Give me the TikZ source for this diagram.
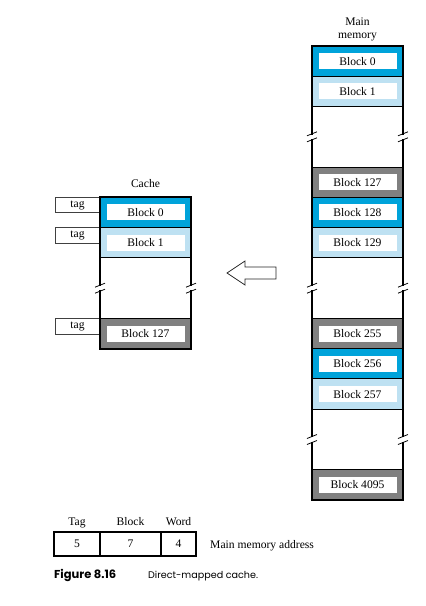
\documentclass[tikz,border=0pt]{standalone}
\usepackage{fontspec}
\setmainfont{Liberation Serif}
\newfontfamily\capfont{Poppins}
\definecolor{blkA}{HTML}{00A3DA}
\definecolor{blkB}{HTML}{BEE1F2}
\definecolor{blkG}{HTML}{808080}
\newcommand\brkmark[2]{%
  \draw[slash] ({#1-5},{#2-1}) -- ({#1+5},{#2-5});
  \draw[slash] ({#1-5},{#2+5}) -- ({#1+5},{#2+1});}
\begin{document}
\begin{tikzpicture}[x=1pt,y=-1pt,
  txt/.style={font=\fontsize{11.6}{12.5}\selectfont,inner sep=0pt},
  row/.style={draw=black,line width=1pt,minimum width=91pt,minimum height=30.27pt,inner sep=0pt,outer sep=0pt,anchor=north west},
  lbl/.style={txt,fill=white,minimum width=78pt,minimum height=16pt},
  edge/.style={line width=1.8pt,line cap=rect},
  slash/.style={line width=0.8pt},
  tagbox/.style={txt,draw=black!75,line width=0.8pt,minimum width=45pt,minimum height=15.5pt,outer sep=0pt,anchor=north east},
  field/.style={txt,draw=black,line width=1.2pt,minimum height=24pt,outer sep=0pt},
  arrowshape/.style={draw=black!85,line width=0.8pt,fill=white}
]
\useasboundingbox (0,0) rectangle (426,606);

% main memory column
\foreach \i/\c/\t/\n in {0/blkA/Block 0/m0, 1/blkB/Block 1/m1, 4/blkG/Block 127/m127,
  5/blkA/Block 128/m128, 6/blkB/Block 129/m129, 9/blkG/Block 255/m255,
  10/blkA/Block 256/m256, 11/blkB/Block 257/m257, 14/blkG/Block 4095/m4095}{
  \node[row,fill=\c] (\n) at (312,{46+\i*30.27}) {};
  \node[lbl] (\n t) at (\n.center) {\t};
}
\node[txt,align=center] (mmlabel) at (357.5,29.5) {Main\\memory};
\draw[edge] (312,46) -- (403,46);
\draw[edge] (312,500) -- (403,500);
\foreach \x in {312,403}{
  \draw[edge] (\x,46) -- (\x,133.8);
  \draw[edge] (\x,139.8) -- (\x,285.2);
  \draw[edge] (\x,291.2) -- (\x,436.5);
  \draw[edge] (\x,442.5) -- (\x,500);
  \brkmark{\x}{136.8}
  \brkmark{\x}{288.2}
  \brkmark{\x}{439.5}
}

% cache column
\foreach \i/\c/\t/\n in {5/blkA/Block 0/c0, 6/blkB/Block 1/c1, 9/blkG/Block 127/c127}{
  \node[row,fill=\c] (\n) at (100,{46+\i*30.27}) {};
  \node[lbl] (\n t) at (\n.center) {\t};
  \node[tagbox] (\n tag) at (\n.north west) {tag};
}
\node[txt] (clabel) at (145.5,184) {Cache};
\draw[edge] (100,197.35) -- (191,197.35);
\draw[edge] (100,348.7) -- (191,348.7);
\foreach \x in {100,191}{
  \draw[edge] (\x,197.35) -- (\x,285.2);
  \draw[edge] (\x,291.2) -- (\x,348.7);
  \brkmark{\x}{288.2}
}

% arrow
\draw[arrowshape] (276,267) -- (245,267) -- (245,261) -- (227,273) -- (245,285) -- (245,279) -- (276,279) -- cycle;

% address format
\node[field,minimum width=46pt] (ftag) at (77,544) {5};
\node[field,minimum width=61pt] (fblock) at (130.5,544) {7};
\node[field,minimum width=35pt] (fword) at (178.5,544) {4};
\node[txt,anchor=base] (ltag) at (77,525) {Tag};
\node[txt,anchor=base] (lblock) at (130.5,525) {Block};
\node[txt,anchor=base] (lword) at (178.5,525) {Word};
\node[txt,anchor=base west] (addr) at (210,548) {Main memory address};

% caption
\node[inner sep=0pt,anchor=base west] (fig) at (54,578) {\capfont\bfseries\fontsize{11.5}{13}\selectfont Figure 8.16};
\node[inner sep=0pt,anchor=base west] (figt) at (148,578) {\capfont\fontsize{9.6}{12}\selectfont Direct-mapped cache.};
\end{tikzpicture}
\end{document}
